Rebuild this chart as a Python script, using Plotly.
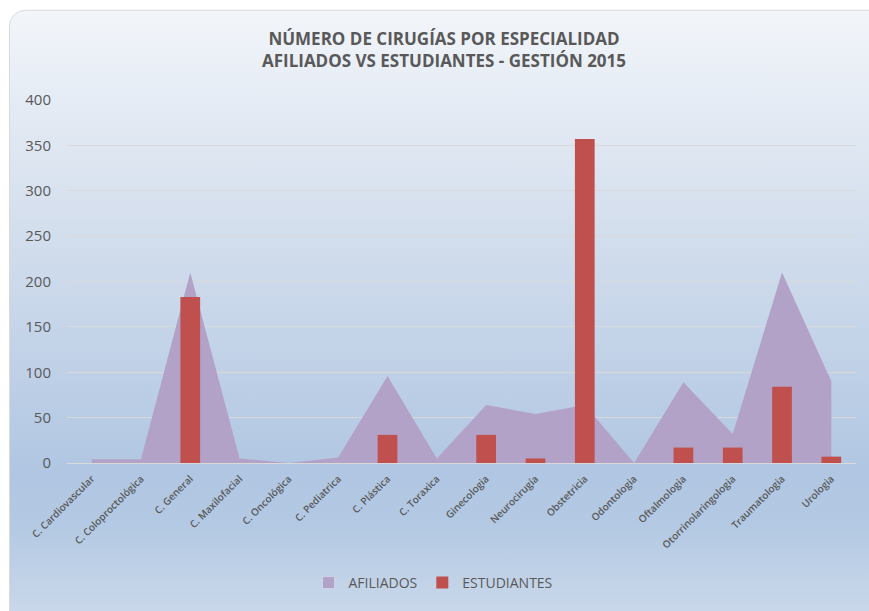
import base64
import plotly.graph_objects as go

categories = ["C. Cardiovascular", "C. Coloproctológica", "C. General", "C. Maxilofacial",
              "C. Oncológica", "C. Pediatrica", "C. Plástica", "C. Toraxica", "Ginecologia",
              "Neurocirugía", "Obstetricia", "Odontologia", "Oftalmologia",
              "Otorrinolaringologia", "Traumatologia", "Urologia"]
afiliados = [4, 4, 210, 5, 0, 6, 96, 5, 64, 54, 64, 0, 89, 32, 210, 90]
estudiantes = [0, 0, 183, 0, 0, 0, 31, 0, 31, 5, 357, 0, 17, 17, 84, 7]
y_ticks = [0, 50, 100, 150, 200, 250, 300, 350, 400]

W, H = 869, 611
L, R, T, B = 67, 13, 100, 145
pw, ph = W - L - R, H - T - B

svg = f'''<svg xmlns="http://www.w3.org/2000/svg" width="{W}" height="{H+40}" viewBox="0 0 {W} {H+40}" preserveAspectRatio="none">
<defs><linearGradient id="g" x1="0" y1="0" x2="0" y2="{H}" gradientUnits="userSpaceOnUse">
<stop offset="0" stop-color="#f4f7fb"/>
<stop offset="0.2" stop-color="#e2e9f3"/>
<stop offset="0.42" stop-color="#d0dcec"/>
<stop offset="0.78" stop-color="#b0c6e2"/>
<stop offset="0.87" stop-color="#b4c9e3"/>
<stop offset="1" stop-color="#c8d7ea"/>
</linearGradient></defs>
<rect x="0" y="0" width="{W}" height="{H+40}" fill="#ffffff"/>
<rect x="9.5" y="9.5" width="{W+20}" height="{H+60}" rx="16" ry="16" fill="url(#g)" stroke="#d9d9d9" stroke-width="1"/>
</svg>'''
uri = "data:image/svg+xml;base64," + base64.b64encode(svg.encode()).decode()

fig = go.Figure()
fig.add_trace(go.Scatter(
    x=categories, y=afiliados, name="AFILIADOS", mode="lines",
    line=dict(width=0, color="#B3A2C7"), fill="tozeroy", fillcolor="#B3A2C7",
    showlegend=False, hoverinfo="skip",
))
# legend entry for the area (square swatch like the reference)
fig.add_trace(go.Bar(
    x=[categories[0]], y=[None], name="AFILIADOS", marker=dict(color="#B3A2C7"),
    yaxis="y2", showlegend=True,
))
fig.add_trace(go.Bar(
    x=categories, y=estudiantes, name="ESTUDIANTES", width=0.4,
    marker=dict(color="#C0504D", line=dict(width=0)),
    yaxis="y2",
))

fig.update_layout(
    width=W, height=H,
    margin=dict(l=L, r=R, t=T, b=B),
    paper_bgcolor="white", plot_bgcolor="rgba(0,0,0,0)",
    font=dict(family="Open Sans", color="#595959"),
    title=dict(
        text="<b>NÚMERO DE CIRUGÍAS POR ESPECIALIDAD<br>AFILIADOS VS ESTUDIANTES - GESTIÓN 2015</b>",
        x=444 / W, xanchor="center", xref="container",
        y=1 - 45 / H, yanchor="middle", yref="container",
        font=dict(size=17, color="#595959", family="Open Sans"),
    ),
    showlegend=True,
    legend=dict(orientation="h", x=(433 - L) / pw, xanchor="center", y=(464 - 585) / ph,
                yanchor="middle", font=dict(size=14, color="#595959"),
                bgcolor="rgba(0,0,0,0)", traceorder="normal"),
    barmode="overlay",
    images=[dict(source=uri, xref="paper", yref="paper", x=-L / pw, y=1 + T / ph,
                 sizex=W / pw, sizey=(H + 40) / ph, sizing="stretch", xanchor="left",
                 yanchor="top", layer="below")],
    yaxis=dict(range=[0, 400], tickvals=y_ticks, tickfont=dict(size=15, color="#595959"),
               showgrid=True, gridcolor="#d9d9d9", gridwidth=1, zeroline=False,
               showline=False, ticks="", ticklabelstandoff=15),
    yaxis2=dict(overlaying="y", range=[0, 400], visible=False, showgrid=False),
)
fig.update_xaxes(type="category", range=[-0.5, len(categories) - 0.5], tickangle=-45,
                 tickfont=dict(size=10, color="#595959", family="Open Sans", weight=600),
                 showgrid=False, showline=True, linecolor="#d9d9d9", linewidth=1, ticks="",
                 ticklabelstandoff=5)

fig.write_html("out.html", config={"displayModeBar": False},
               post_script="document.body.style.margin='0';document.body.style.padding='0';")
